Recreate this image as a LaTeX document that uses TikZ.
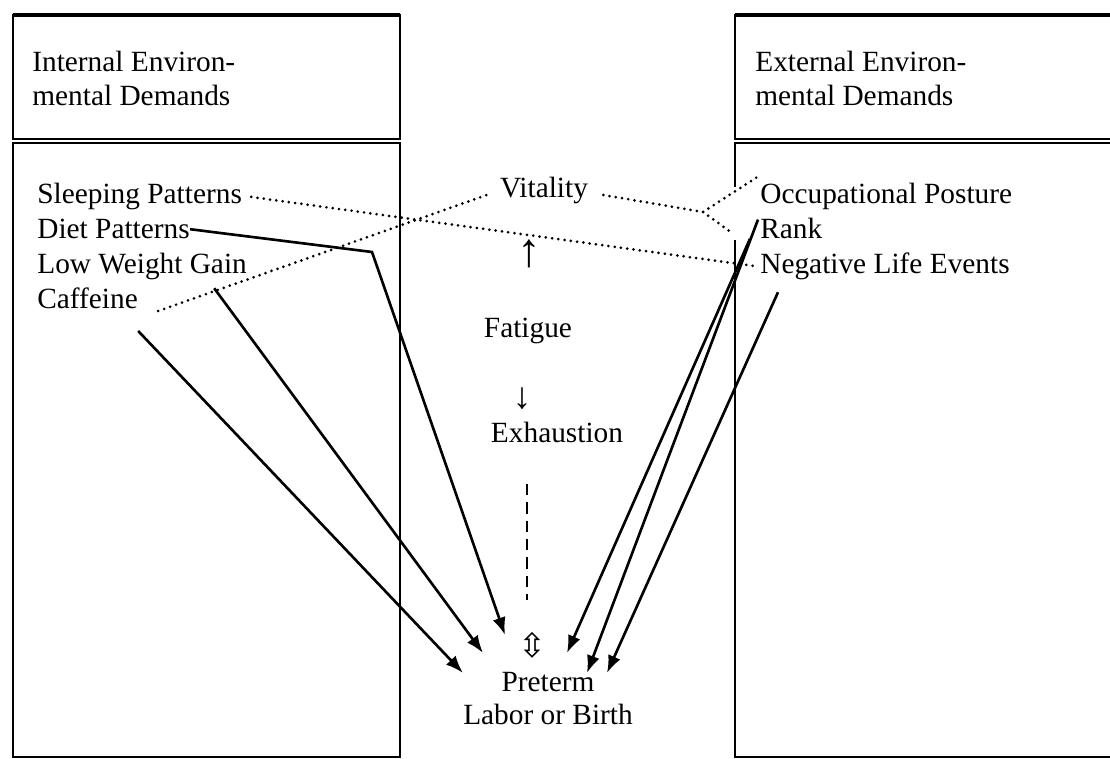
\documentclass[tikz,border=0pt]{standalone}
\usepackage{fontspec}
\setmainfont{Liberation Serif}
\newfontfamily\symfont{DejaVu Sans}
\usepackage{tikz}
\usetikzlibrary{positioning,arrows.meta}
\tikzstyle{frame}=[draw=black, line width=1.1pt]
\tikzstyle{item}=[inner sep=0pt, anchor=base west, align=left,
        font=\fontsize{16.7}{19.6}\selectfont]
\tikzstyle{term}=[inner sep=0pt, anchor=base, align=center,
        font=\fontsize{16.7}{19}\selectfont]
\tikzstyle{link}=[line width=1.5pt, -{Latex[length=10pt,width=7.5pt]}]
\tikzstyle{dotlink}=[line width=1.7pt, line cap=round, dash pattern=on 0pt off 3.6pt]
\tikzstyle{dashlink}=[line width=1.3pt, dash pattern=on 6.5pt off 4pt]

\begin{document}
\begin{tikzpicture}[x=0.02cm, y=-0.02cm, node distance=19.8pt]
        \useasboundingbox (0,0) rectangle (1110,759);
        \draw[frame] (13,15) rectangle (400,139);
        \draw[frame] (13,143) rectangle (400,757);
        \draw[frame, line width=2pt] (13,15) -- (400,15);
        \draw[frame] (1120,15) -- (735,15) -- (735,139) -- (1120,139);
        \draw[frame, line width=2pt] (735,15) -- (1120,15);
        \draw[frame] (1120,143) -- (735,143) -- (735,187);
        \draw[frame] (735,240) -- (735,757) -- (1120,757);

        \node (inthead) [item] at (32,106) {Internal Environ-\\mental Demands};
        \node (exthead) [item] at (755,106) {External Environ-\\mental Demands};

        \node (sleep) [item] at (37,204) {Sleeping Patterns};
        \node (diet) [item, below=of sleep.base west, anchor=base west] {Diet Patterns};
        \node (lwg) [item, below=of diet.base west, anchor=base west] {Low Weight Gain};
        \node (caff) [item, below=of lwg.base west, anchor=base west] {Caffeine};

        \node (occ) [item] at (760,204) {Occupational Posture};
        \node (rank) [item, below=of occ.base west, anchor=base west] {Rank};
        \node (neg) [item, below=of rank.base west, anchor=base west] {Negative Life Events};

        \node (vital) [term] at (544,198) {Vitality};
        \node (uparr) [term, anchor=center, font=\fontsize{27}{27}\selectfont] at (529,254) {↑};
        \node (fatigue) [term] at (528,338) {Fatigue};
        \node (downarr) [term, anchor=center, font=\fontsize{21}{21}\selectfont] at (522,399) {↓};
        \node (exhaust) [term] at (557,443) {Exhaustion};
        \node (dblarr) [term, anchor=center, font=\symfont\fontsize{19}{19}\selectfont] at (532,645) {⇳};
        \node (preterm) [term, anchor=north] at (548,672) {Preterm\\Labor or Birth};

        \coordinate (dietbend) at (372,252);
        \coordinate (vfork) at (703,212);
        \coordinate (dashend) at (527,600);

        \draw[dotlink] ([shift={(9,0)}]sleep.east) -- ([shift={(-3,0)}]neg.west);
        \draw[dotlink] ([shift={(20,2)}]caff.south east) -- ([shift={(-13,4)}]vital.west);
        \draw[dotlink] ([shift={(15,4)}]vital.east) -- (vfork) -- ([shift={(0,-8)}]occ.north west);
        \draw[dotlink] (vfork) -- ([shift={(-31,2)}]rank.west);
        \draw[dashlink] (exhaust.south -| dashend) ++(0,40) -- (dashend);

        \draw[link] (diet.east) -- (dietbend) -- ([shift={(-43,-37)}]preterm.north);
        \draw[link] ([shift={(-33,8)}]lwg.south east) -- ([shift={(-65,-19)}]preterm.north);
        \draw[link] ([shift={(0,22)}]caff.south east) -- ([shift={(-85,1)}]preterm.north);
        \draw[link] ([shift={(-10,10)}]rank.west) -- ([shift={(19,-19)}]preterm.north);
        \draw[link] ([shift={(-2,9)}]occ.south west) -- ([shift={(39,1)}]preterm.north);
        \draw[link] ([shift={(18,12)}]neg.south west) -- ([shift={(59,1)}]preterm.north);
\end{tikzpicture}
\end{document}
